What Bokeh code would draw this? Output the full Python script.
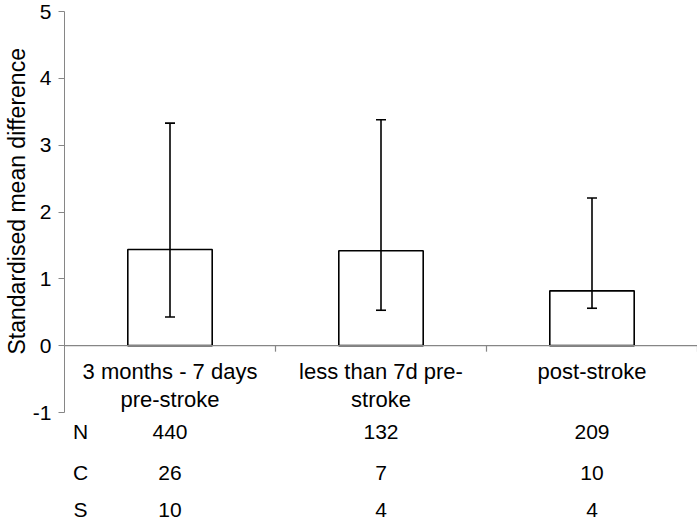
from bokeh.plotting import figure
from bokeh.models import Range1d, FixedTicker, ColumnDataSource, PrintfTickFormatter, Title
from bokeh.core.properties import value
from bokeh.embed import file_html
from bokeh.resources import INLINE
import math

# ---- data ----
categories = ["3 months - 7 days\npre-stroke", "less than 7d pre-\nstroke", "post-stroke"]
smd = [1.44, 1.42, 0.82]
ci_upper = [3.33, 3.38, 2.21]
ci_lower = [0.43, 0.53, 0.56]
row_labels = ["N", "C", "S"]
n_vals = [440, 132, 209]
c_vals = [26, 7, 10]
s_vals = [10, 4, 4]
y_ticks = [-1, 0, 1, 2, 3, 4, 5]

FONT = "Liberation Sans"
AXIS_GRAY = "#868686"

# ---- layout (pixels) ----
W, H = 697, 521
LEFT, TOP = 64, 11
Y_MIN_PX = 412            # pixel row of y = -1
px_per_unit = (Y_MIN_PX - TOP) / (max(y_ticks) - min(y_ticks))
y_bottom = min(y_ticks) - (H - Y_MIN_PX) / px_per_unit

xs = [i + 0.5 for i in range(len(categories))]
ncat = len(categories)

src = ColumnDataSource(dict(x=xs, top=smd, up=ci_upper, lo=ci_lower, cat=categories))

p = figure(width=W, height=H, x_range=Range1d(0, ncat), y_range=Range1d(y_bottom, max(y_ticks)),
           output_backend="svg", toolbar_location=None, x_axis_location=None,
           min_border_left=LEFT, min_border_right=0, min_border_top=TOP, min_border_bottom=0,
           outline_line_color=None, background_fill_color="white")
p.grid.visible = False

ya = p.yaxis[0]
ya.bounds = (min(y_ticks), max(y_ticks))
ya.ticker = FixedTicker(ticks=y_ticks, minor_ticks=[])
ya.formatter = PrintfTickFormatter(format="%d")
ya.major_label_text_font = FONT
ya.major_label_text_font_size = "21px"
ya.major_label_text_color = "black"
ya.major_label_standoff = 7
ya.axis_line_color = AXIS_GRAY
ya.major_tick_line_color = AXIS_GRAY
ya.major_tick_out = 6
ya.major_tick_in = 0
ya.minor_tick_line_color = None

title = Title(text="Standardised mean difference", align="left", offset=H - 354,
              text_font=FONT, text_font_size="23px", text_font_style="normal",
              text_color="black", standoff=0)
p.add_layout(title, "left")

# bars
p.vbar(x="x", top="top", bottom=0, width=0.4, source=src,
       fill_color="white", line_color="black", line_width=1.6)

# zero line and category ticks
p.segment(x0=0, y0=0, x1=ncat, y1=0, line_color=AXIS_GRAY, line_width=1.2)
p.ray(x=list(range(1, ncat + 1)), y=[0] * ncat, length=6, length_units="screen",
      angle=-math.pi / 2, line_color=AXIS_GRAY, line_width=1.2)

# error bars
p.segment(x0="x", y0="lo", x1="x", y1="up", source=src, line_color="black", line_width=1.6)
p.scatter(x="x", y="up", source=src, marker="dash", size=10, line_color="black", line_width=1.6)
p.scatter(x="x", y="lo", source=src, marker="dash", size=10, line_color="black", line_width=1.6)

# category labels
p.text(x="x", y=0, text="cat", source=src, text_align="center", text_baseline="top",
       y_offset=13, text_font=value(FONT), text_font_size="22px", text_line_height=1.12,
       text_color="black")

# table below the axis
row_offsets = [19, 60, 97]
rows = [n_vals, c_vals, s_vals]
for off, lab, vals in zip(row_offsets, row_labels, rows):
    p.text(x=[0], y=[min(y_ticks)], text=[lab], x_offset=16, y_offset=off,
           text_align="center", text_baseline="middle",
           text_font=value(FONT), text_font_size="21px", text_color="black")
    p.text(x=xs, y=[min(y_ticks)] * ncat, text=[str(v) for v in vals], y_offset=off,
           text_align="center", text_baseline="middle",
           text_font=value(FONT), text_font_size="21px", text_color="black")

open("out.html", "w").write(file_html(p, INLINE))
